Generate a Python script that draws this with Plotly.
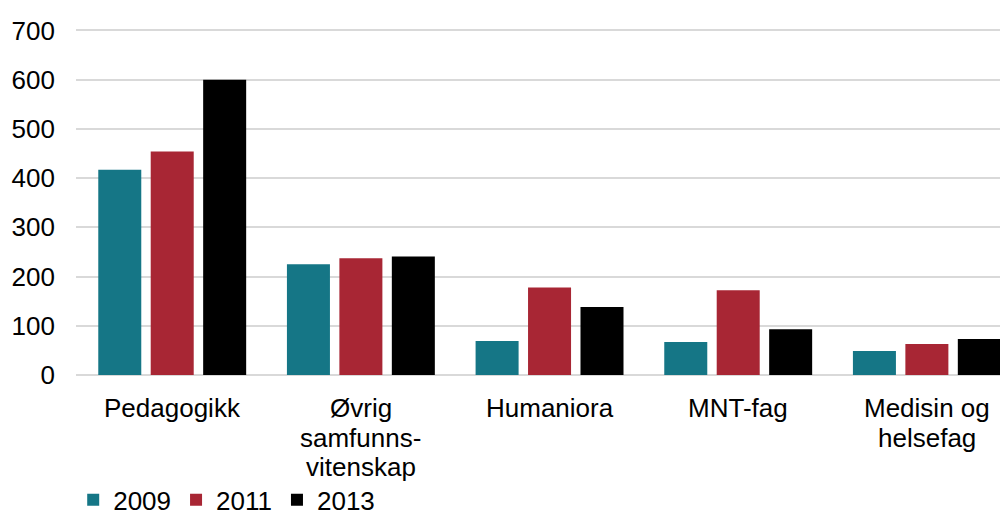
import plotly.graph_objects as go

# Categories and values
categories = ["Pedagogikk", "Øvrig samfunns-vitenskap", "Humaniora", "MNT-fag", "Medisin og helsefag"]
label_lines = [["Pedagogikk"], ["Øvrig", "samfunns-", "vitenskap"], ["Humaniora"], ["MNT-fag"],
               ["Medisin og", "helsefag"]]
years = ["2009", "2011", "2013"]
v2009 = [417, 225, 69, 67, 49]
v2011 = [454, 237, 178, 172, 63]
v2013 = [600, 241, 138, 93, 73]
colors = ["#157686", "#a82634", "#000000"]

fig = go.Figure()
for name, vals, col in zip(years, [v2009, v2011, v2013], colors):
    fig.add_trace(go.Bar(x=categories, y=vals, name=name, marker=dict(color=col, line=dict(width=0))))

# category labels with tighter line spacing than plotly's tick labels
for cat, lines in zip(categories, label_lines):
    for i, line in enumerate(lines):
        fig.add_annotation(x=cat, xref="x", y=0, yref="paper", text=line, showarrow=False,
                           yanchor="middle", yshift=-(33 + i * 29.5),
                           font=dict(size=26, color="#000000"))

# page body has an 8px margin, so figure is 1000x508
fig.update_layout(
    width=1000, height=508,
    barmode="group", bargap=0.166, bargroupgap=0.18,
    margin=dict(l=68, r=0, t=20, b=141, autoexpand=False),
    paper_bgcolor="white", plot_bgcolor="white",
    font=dict(family="Liberation Sans, Arial, sans-serif", size=26, color="#000000"),
    legend=dict(orientation="h", x=-0.003, xanchor="left", y=-0.36, yanchor="middle",
                font=dict(size=26), itemwidth=30, tracegroupgap=0),
)
fig.update_xaxes(range=[-0.51, 4.43], showgrid=False, showline=False, ticks="",
                 showticklabels=False, automargin=False)
fig.update_yaxes(range=[0, 705], tickvals=[0, 100, 200, 300, 400, 500, 600, 700],
                 showgrid=True, gridcolor="#d9d9d9", gridwidth=2,
                 zeroline=True, zerolinecolor="#d9d9d9", zerolinewidth=2,
                 showline=False, ticks="", tickfont=dict(size=26), ticklabelstandoff=20,
                 automargin=False)

fig.write_html("out.html")
